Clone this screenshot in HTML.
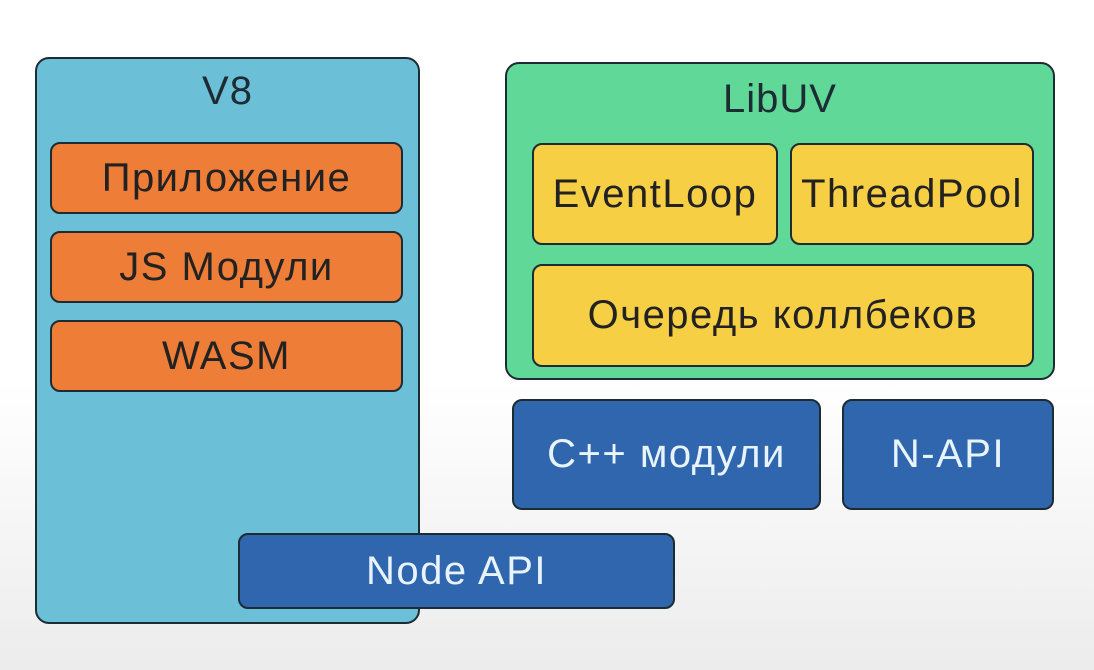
<!DOCTYPE html>
<html><head><meta charset="utf-8"><style>
body{margin:0;width:1094px;height:670px;overflow:hidden;background:linear-gradient(#fff 0,#fff 380px,#ececec 670px);font-family:"Liberation Sans","DejaVu Sans",sans-serif;position:relative}
.b{position:absolute;box-sizing:border-box;border:2.5px solid #1d2b33;border-radius:10px;display:flex;align-items:center;justify-content:center;font-size:40px;letter-spacing:1.5px;color:#222}
.t{position:absolute;left:0;right:0;text-align:center;font-size:40px;letter-spacing:1px;color:#1d2b33}
.o{background:#ee7d37}.y{background:#f7cf45}.d{background:#2f66ad;color:#e8f4fb}
</style></head><body>
<div class="b" style="left:35px;top:57px;width:385px;height:567px;background:#6bbfd6;border-radius:14px;display:block"><div class="t" style="top:10px">V8</div></div>
<div class="b o" style="left:50px;top:142px;width:353px;height:72px">Приложение</div>
<div class="b o" style="left:50px;top:231px;width:353px;height:72px">JS Модули</div>
<div class="b o" style="left:50px;top:320px;width:353px;height:72px">WASM</div>
<div class="b" style="left:505px;top:62px;width:550px;height:318px;background:#5fd898;border-radius:14px;display:block"><div class="t" style="top:13px">LibUV</div></div>
<div class="b y" style="left:532px;top:143px;width:246px;height:102px">EventLoop</div>
<div class="b y" style="left:790px;top:143px;width:244px;height:102px">ThreadPool</div>
<div class="b y" style="left:532px;top:264px;width:502px;height:103px">Очередь коллбеков</div>
<div class="b d" style="left:512px;top:399px;width:309px;height:111px">C++ модули</div>
<div class="b d" style="left:842px;top:399px;width:212px;height:111px">N-API</div>
<div class="b d" style="left:238px;top:533px;width:437px;height:76px">Node API</div>
</body></html>
